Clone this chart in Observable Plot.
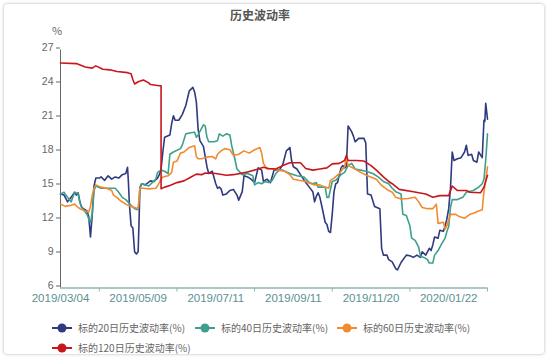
<!DOCTYPE html>
<html>
<head>
<meta charset="utf-8">
<script src="https://cdn.jsdelivr.net/npm/d3@7"></script>
<script src="https://cdn.jsdelivr.net/npm/@observablehq/plot@0.6"></script>
<style>
  html, body { margin: 0; padding: 0; background: #fff; }
  body { width: 550px; height: 360px; position: relative; overflow: hidden;
         font-family: "Noto Sans CJK SC", "Noto Sans", sans-serif; }
  #frame { position: absolute; left: 3px; top: 3px; width: 542px; height: 352px;
           border: 1px solid #e2e2e2; border-radius: 4px; box-shadow: 0 0 3px rgba(0,0,0,0.12); box-sizing: border-box; }
  #title { position: absolute; left: 0; width: 520px; top: 6px; text-align: center;
           font-size: 12px; font-weight: bold; color: #555; }
  #unit { position: absolute; left: 52px; top: 22px; font-size: 11px; color: #666; }
  #chart { position: absolute; left: 0; top: 0; }
  .leg { position: absolute; display: flex; align-items: center; font-size: 10px; color: #666; white-space: nowrap; }
  .leg svg { margin-right: 6px; }
</style>
</head>
<body>
<div id="frame"></div>
<div id="title">历史波动率</div>
<div id="unit">%</div>
<div id="chart"></div>
<div id="legend"></div>
<script>
// category axis labels (trading-day index of each label = position in list * 44)
const dateLabels = ["2019/03/04", "2019/05/09", "2019/07/11", "2019/09/11", "2019/11/20", "2020/01/22"];
const labelStep = 44;
const lastDay = 242;
const yTicks = [6, 9, 12, 15, 18, 21, 24, 27];

const seriesNames = ["标的20日历史波动率(%)", "标的40日历史波动率(%)", "标的60日历史波动率(%)", "标的120日历史波动率(%)"];
const seriesColors = ["#2f3b7e", "#3ea08c", "#f28a30", "#c8161d"];

// [trading-day index, value]
const vol20 = [[0,14.3],[2,14.2],[3,13.9],[4,13.6],[6,14.0],[8,14.45],[9,14.2],[10,14.4],[11,13.6],[12,13.1],[13,13.0],[15,12.8],[16,12.3],[17,10.5],[18,12.5],[19,15.0],[20,15.7],[22,15.7],[23,15.8],[25,15.5],[27,15.9],[29,15.6],[31,15.8],[33,15.7],[35,16.0],[37,16.1],[38,16.65],[38.5,15.3],[39,13.5],[40,11.5],[41,11.3],[42,9.2],[43,9.0],[44,9.2],[44.5,11.8],[45,14.8],[46,15.2],[48,15.1],[51,15.45],[53,15.4],[55,15.7],[56,16.0],[57,16.5],[58,18.0],[59,19.3],[62,19.5],[63,20.5],[64,21.2],[65,20.8],[67,20.8],[69,21.3],[71,22.1],[73,23.4],[75,23.7],[76,23.3],[77,22.4],[78,20.0],[79,19.0],[81,18.5],[83,16.7],[84,16.1],[86,16.3],[88,15.2],[89,14.8],[90,14.9],[91,14.75],[92,14.2],[94,14.3],[96,14.6],[98,14.7],[100,14.2],[101,13.75],[103,14.5],[104,15.9],[106,15.8],[108,15.6],[110,15.3],[112,16.6],[114,16.4],[115,15.4],[117,15.6],[119,15.3],[121,16.4],[124,16.4],[126,16.9],[128,18.1],[130,18.4],[131,17.2],[132,16.7],[134,16.5],[136,16.0],[139,15.3],[141,14.9],[143,14.5],[144,13.6],[145,14.1],[146,14.4],[147,14.0],[148,13.3],[150,11.8],[151,11.6],[152,11.0],[153,10.9],[154,12.5],[155,14.5],[156,15.2],[157,15.3],[159,16.6],[160,16.8],[161,16.6],[162,16.7],[163,20.3],[165,19.8],[166,19.4],[167,18.9],[169,19.2],[172,19.2],[173,18.8],[174,14.3],[176,14.2],[178,13.2],[181,13.0],[182,9.5],[183,8.9],[185,8.9],[186,8.5],[188,8.3],[190,7.7],[191,7.6],[193,8.25],[196,8.9],[198,8.85],[200,8.7],[202,8.9],[204,8.7],[205,9.2],[207,8.9],[209,9.5],[210,9.3],[211,9.8],[212,10.5],[214,10.4],[215,11.1],[217,11.0],[218,11.5],[219,12.1],[220,13.0],[221,14.75],[222,18.0],[223,17.25],[225,17.4],[227,17.5],[229,18.0],[230,18.6],[231,17.7],[233,17.8],[234,17.25],[236,17.1],[237,18.0],[239,17.5],[240,20.8],[240.5,20.7],[241,22.3],[242,20.9]];

const vol40 = [[0,14.3],[2,14.45],[4,14.0],[6,13.6],[8,14.45],[10,14.3],[11,13.5],[13,12.9],[15,12.5],[16,12.1],[17,11.8],[18,12.6],[19,14.6],[20,15.0],[23,14.8],[28,14.8],[31,14.8],[33,14.45],[35,14.0],[37,13.8],[40,13.3],[42,13.0],[44,12.9],[44.5,13.6],[45,14.9],[46,15.2],[50,15.0],[52,15.3],[54,15.6],[55,16.2],[57,16.4],[59,16.3],[61,16.1],[62,17.8],[64,18.0],[68,18.3],[69,18.6],[71,19.6],[74,19.7],[76,19.75],[77,19.3],[78,19.5],[80,20.1],[81,20.4],[82,20.3],[83,19.3],[84,18.9],[87,18.9],[89,19.0],[90,19.6],[92,19.4],[94,19.6],[96,19.5],[97,18.6],[99,17.25],[100,16.5],[103,16.0],[106,16.1],[109,15.9],[110,15.1],[112,15.3],[114,15.2],[116,15.4],[118,15.3],[120,15.5],[122,16.1],[124,16.4],[126,16.4],[130,16.1],[134,15.9],[138,15.8],[141,15.3],[143,15.2],[145,15.3],[146,14.9],[150,14.9],[151,14.0],[152,14.0],[154,15.4],[156,15.5],[159,16.0],[161,16.2],[163,16.8],[165,17.0],[167,16.5],[170,16.4],[173,16.3],[177,16.1],[180,15.8],[183,15.4],[186,15.2],[188,14.8],[190,14.5],[193,14.3],[194,12.5],[196,12.4],[198,11.5],[199,10.4],[201,10.2],[203,9.6],[204,8.8],[206,8.7],[208,8.5],[209,8.2],[211,8.2],[212,8.9],[214,9.3],[216,9.9],[218,10.4],[219,11.0],[220,11.4],[221,13.1],[222,13.8],[225,13.8],[228,14.0],[230,14.45],[234,14.6],[237,14.9],[239,15.2],[240,15.6],[241,17.3],[242,19.6]];

const vol60 = [[0,13.4],[3,13.2],[6,13.3],[8,13.4],[10,13.1],[11,13.0],[14,12.8],[16,12.7],[17,13.2],[18,14.2],[19,14.8],[20,15.1],[23,14.9],[26,14.8],[29,14.6],[30,14.2],[32,14.0],[34,13.7],[37,13.4],[40,13.2],[42,13.1],[44,13.0],[44.5,14.0],[45,14.8],[47,14.8],[50,14.75],[54,14.8],[55,15.0],[57,15.6],[58,15.8],[61,15.9],[63,16.2],[64,17.1],[66,17.2],[68,17.9],[70,18.0],[73,18.4],[76,18.55],[77,17.6],[78,17.4],[80,17.4],[83,17.55],[86,17.6],[88,17.4],[89,17.8],[91,18.1],[93,18.3],[96,18.2],[98,17.7],[101,17.8],[104,18.1],[107,17.9],[110,18.2],[113,18.4],[114,17.9],[115,17.0],[117,16.5],[120,16.5],[123,16.4],[127,16.3],[130,16.0],[132,15.6],[135,15.5],[139,15.4],[142,15.2],[144,15.1],[147,15.1],[150,14.9],[152,14.8],[153,15.5],[155,15.7],[158,16.1],[161,16.7],[162,17.5],[163,16.8],[167,16.5],[170,16.2],[174,15.9],[179,15.6],[182,15.05],[186,14.6],[188,14.45],[190,14.0],[193,13.85],[197,13.9],[201,14.0],[203,13.6],[205,13.1],[208,13.0],[211,13.0],[213,13.4],[214,11.7],[217,11.8],[218,11.2],[219,11.5],[221,12.5],[224,12.5],[226,12.3],[229,12.15],[232,12.5],[234,12.6],[237,12.8],[239,12.9],[240,14.5],[241,15.5],[242,16.7]];

const vol120 = [[0,25.85],[9,25.8],[14,25.5],[18,25.4],[20,25.6],[24,25.3],[28,25.25],[32,25.1],[38,25.0],[40,24.9],[41,24.4],[42,24.0],[44,24.2],[47,24.35],[50,24.1],[51,23.95],[56,23.85],[57,23.85],[57,14.75],[59,14.9],[62,15.05],[66,15.3],[70,15.45],[74,15.8],[77,16.05],[80,16.0],[82,16.15],[88,16.1],[94,15.95],[98,16.0],[105,16.2],[111,16.45],[115,16.65],[118,16.55],[122,16.5],[126,16.8],[130,17.05],[136,17.05],[139,16.55],[143,16.4],[147,16.5],[151,16.6],[154,16.95],[158,17.0],[161,17.25],[162,17.7],[163,17.25],[168,17.25],[172,17.2],[176,16.8],[179,16.4],[183,15.8],[186,15.4],[188,15.2],[192,14.7],[200,14.5],[207,14.3],[211,14.0],[215,14.15],[220,14.15],[222,15.0],[225,14.6],[230,14.6],[232,14.45],[238,14.4],[240,14.9],[242,15.95]];

const allSeries = [vol20, vol40, vol60, vol120];

const labelIdx = dateLabels.map((_, i) => i * labelStep);
const tickIdx = dateLabels.map((_, i) => i * labelStep + labelStep / 2);

const chart = Plot.plot({
  width: 550,
  height: 310,
  marginTop: 49.5,
  marginBottom: 22.5,
  marginLeft: 60,
  marginRight: 63,
  x: {domain: [0, lastDay]},
  y: {domain: [6, 27]},
  style: {fontFamily: "'Liberation Sans', 'DejaVu Sans', sans-serif", fontSize: "11px", background: "transparent", overflow: "visible"},
  marks: [
    Plot.axisY({ticks: yTicks, tickSize: 4, tickPadding: 3, color: "#666", fontSize: 10.5, dy: -2, label: null}),
    Plot.ruleX([0], {stroke: "#666"}),
    Plot.ruleY([6], {stroke: "#8fb5b5", strokeWidth: 1.5}),
    Plot.axisX({ticks: tickIdx, tickSize: 4, tickFormat: () => "", color: "#8fb5b5", label: null}),
    Plot.axisX({ticks: labelIdx, tickSize: 0, tickPadding: 6, fontSize: 11.5, tickFormat: d => dateLabels[Math.round(d / labelStep)], color: "#5b8f94", label: null}),
    ...allSeries.map((s, k) => Plot.line(s, {x: d => d[0], y: d => d[1], stroke: seriesColors[k], strokeWidth: 1.6}))
  ]
});
document.getElementById("chart").appendChild(chart);

// legend
const legendPos = [[52, 320], [195, 320], [337, 320], [52, 340]];
const legend = document.getElementById("legend");
seriesNames.forEach((name, k) => {
  const div = document.createElement("div");
  div.className = "leg";
  div.style.left = legendPos[k][0] + "px";
  div.style.top = legendPos[k][1] + "px";
  div.innerHTML = `<svg width="20" height="14"><line x1="0" x2="20" y1="7" y2="7" stroke="${seriesColors[k]}" stroke-width="2"/><circle cx="10" cy="7" r="4.5" fill="${seriesColors[k]}"/></svg><span>${name}</span>`;
  legend.appendChild(div);
});
</script>
</body>
</html>
